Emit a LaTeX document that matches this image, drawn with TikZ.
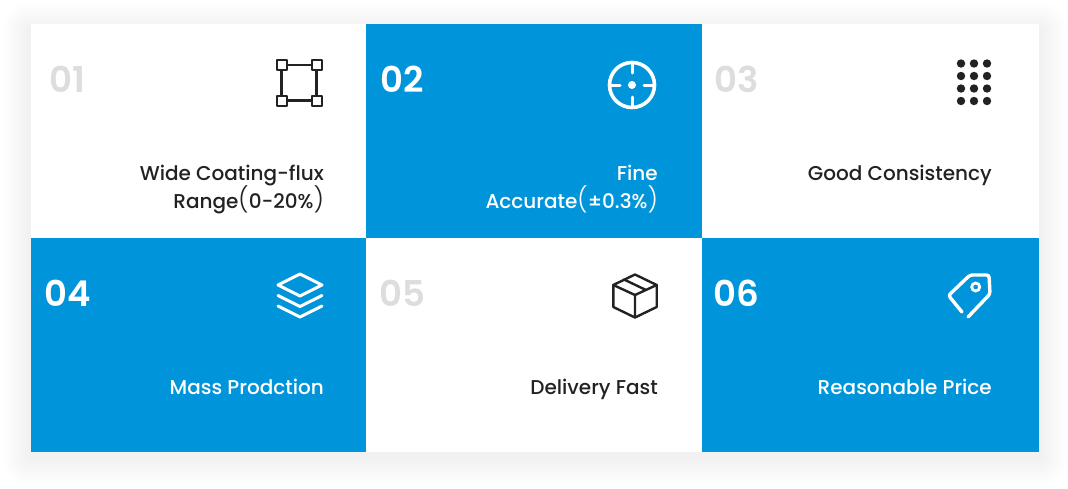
\documentclass[tikz,border=0pt]{standalone}
\usepackage{fontspec}
\setmainfont{Poppins Medium}[BoldFont={Poppins SemiBold}]
\newfontfamily\parenfont{Poppins Light}
\definecolor{panelblue}{HTML}{0095DB}
\definecolor{numgrey}{HTML}{DDDDDD}
\definecolor{inkdark}{HTML}{222222}
\tikzset{
  feature grid/.style={x=1pt,y=-1pt},
  cell/.style={anchor=north west, minimum width=335.5pt, minimum height=214pt, inner sep=0pt, outer sep=0pt},
  whitecell/.style={cell, fill=white},
  bluecell/.style={cell, fill=panelblue},
  lastcol/.style={minimum width=337pt},
  number/.style={anchor=west, inner sep=0pt, font={\fontsize{35.5}{35.5}\selectfont\bfseries}},
  caption/.style={anchor=north east, inner sep=0pt, align=right, font={\fontsize{20}{28}\selectfont}},
  icon/.style={line width=2.4pt, line join=round, line cap=round},
}
\newcommand{\wideopen}{\smash{\parenfont\fontsize{24.5}{28}\selectfont(}}
\newcommand{\wideclose}{\smash{\parenfont\fontsize{24.5}{28}\selectfont)}}
\begin{document}
\begin{tikzpicture}[feature grid]
    \useasboundingbox (0,0) rectangle (1068,488);
    \fill [white] (0,0) rectangle (1068,488);
    % soft shadow
    \foreach \r in {2,4,...,28}
      \fill [black,opacity=0.0022,rounded corners=\r pt] (31-\r,24+6-\r) rectangle (1039+\r,452+6+\r);

    \node [whitecell] (cellA) at (31,24) {};
    \node [bluecell]  (cellB) at (366,24) {};
    \node [whitecell,lastcol] (cellC) at (701.5,24) {};
    \node [bluecell]  (cellD) at (31,238) {};
    \node [whitecell] (cellE) at (366,238) {};
    \node [bluecell,lastcol]  (cellF) at (701.5,238) {};

    \node [number,numgrey] (numA) at (49.5,79) {01};
    \node [number,white]   (numB) at (380.5,79) {02};
    \node [number,numgrey] (numC) at (714.5,79) {03};
    \node [number,white]   (numD) at (44.5,293) {04};
    \node [number,numgrey] (numE) at (379.5,293) {05};
    \node [number,white]   (numF) at (713.5,293) {06};

    \node [caption,inkdark] (capA) at (324,165) {Wide Coating-flux\\Range\wideopen 0-20\%\wideclose};
    \node [caption,white]   (capB) at (658,165) {Fine\\Accurate\wideopen ±0.3\%\wideclose};
    \node [caption,inkdark] (capC) at (992,165) {Good Consistency};
    \node [caption,white]   (capD) at (324,379) {Mass Prodction};
    \node [caption,inkdark] (capE) at (658,379) {Delivery Fast};
    \node [caption,white]   (capF) at (992,379) {Reasonable Price};

    % frame icon
    \draw [icon,inkdark,line cap=butt] (281.5,65) rectangle (316.5,100.5);
    \foreach \x in {281.5,316.5}
      \foreach \y in {65,100.5}
        \draw [icon,inkdark,fill=white,line width=2pt] (\x-5,\y-5) rectangle (\x+5,\y+5);

    % target icon
    \draw [icon,white,line width=3.6pt] (632,85) circle (22.5);
    \fill [white] (632,85) circle (4);
    \draw [icon,white,line width=3pt] (632,64) -- (632,73) (632,97) -- (632,106)
      (611,85) -- (620,85) (644,85) -- (653,85);

    % dots icon
    \foreach \x in {961,974,987}
      \foreach \y in {63.5,76,88.5,101}
        \fill [inkdark] (\x,\y) circle (4.2);

    % layers icon
    \draw [icon,white,line width=3pt] (300,274) -- (322,285) -- (300,296) -- (278,285) -- cycle;
    \draw [icon,white,line width=3pt] (278,295.5) -- (300,306.5) -- (322,295.5);
    \draw [icon,white,line width=3pt] (278,306) -- (300,317) -- (322,306);

    % box icon
    \draw [icon,inkdark] (635,274.5) -- (656.7,285) -- (656.7,307) -- (635,317.5)
      -- (613.3,307) -- (613.3,285) -- cycle;
    \draw [icon,inkdark] (613.3,285) -- (635,295) -- (656.7,285) (635,295) -- (635,317.5);
    \draw [icon,inkdark] (624,279.5) -- (646,290);

    % tag icon
    \draw [icon,white,line width=3.4pt,rounded corners=2.5pt] (968,317) -- (990,294) -- (989,275)
      -- (970,275) -- (948.5,295.5) -- (962,312);
    \draw [white,line width=2.8pt] (975.7,287) circle (4);
\end{tikzpicture}
\end{document}
